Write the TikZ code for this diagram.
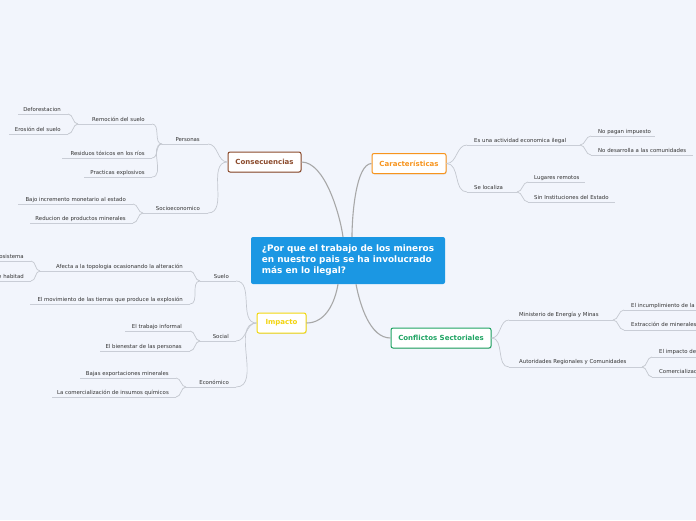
\documentclass[tikz,border=0pt]{standalone}
\usepackage{fontspec}
\setmainfont{DejaVu Sans}
\usetikzlibrary{shadows}
\definecolor{bg}{HTML}{F2F5FC}
\definecolor{txt}{HTML}{333333}
\definecolor{ulc}{HTML}{C9CDD6}
\definecolor{brc}{HTML}{C4C8D0}
\definecolor{mlc}{HTML}{A8A8A8}
\definecolor{qblue}{HTML}{1B97E3}
\definecolor{cbrown}{HTML}{8B4A2B}
\definecolor{corange}{HTML}{F7941D}
\definecolor{cyellow}{HTML}{F2D80F}
\definecolor{cgreen}{HTML}{1FA463}
\tikzset{
  lbl/.style={font=\fontsize{5.4}{6.5}\selectfont, text=txt, inner sep=0pt},
  uline/.style={draw=ulc, line width=0.7pt},
  br/.style={draw=brc, line width=0.7pt},
  mainlink/.style={draw=mlc, line width=1.1pt},
  topic/.style={draw=#1, fill=white, line width=1pt, rounded corners=2pt,
    minimum height=20pt, inner xsep=5pt, font=\fontsize{7}{8}\selectfont\bfseries,
    drop shadow={shadow xshift=0.6pt, shadow yshift=-0.8pt, opacity=0.25}},
}
\begin{document}
\begin{tikzpicture}[x=1pt,y=-1pt]
\fill[bg] (0,0) rectangle (696,520);
\useasboundingbox (0,0) rectangle (696,520);

% central node
\node[fill=qblue, rounded corners=2pt, minimum width=194pt, minimum height=47pt,
  text=white, align=left, font=\fontsize{8.9}{11}\selectfont\bfseries, inner sep=0pt] (q) at (348,260.5)
  {¿Por que el trabajo de los mineros\\en nuestro pais se ha involucrado\\más en lo ilegal?};

% main topics
\node[topic=cbrown, text=cbrown, minimum width=73pt] (cons) at (264.5,162) {Consecuencias};
\node[topic=corange, text=corange, minimum width=74pt] (cara) at (409,163.5) {Características};
\node[topic=cyellow, text=cyellow!95!orange, minimum width=49pt] (imp) at (281.5,323) {Impacto};
\node[topic=cgreen, text=cgreen, minimum width=100pt] (conf) at (441,338) {Conflictos Sectoriales};

% main connectors
\draw[mainlink] (cons.east) .. controls (325,162) and (340,215) .. ([xshift=-5pt]q.north);
\draw[mainlink] (cara.west) .. controls (356,164) and (352,215) .. ([xshift=4pt]q.north);
\draw[mainlink] (imp.east) .. controls (326,323) and (335,302) .. ([xshift=-10pt]q.south);
\draw[mainlink] (conf.west) .. controls (370,338) and (360,305) .. ([xshift=8pt]q.south);

% ---------- Consecuencias ----------
\coordinate (pers-l) at (162,144); \coordinate (pers-r) at (208,144);
\draw[uline] (pers-l) -- (pers-r);
\node[lbl, anchor=base east] (pers) at (200,141) {Personas};
\draw[br] (pers-r) to[out=0,in=180] (cons.west);

\coordinate (soc-l) at (143,213); \coordinate (soc-r) at (208,213);
\draw[uline] (soc-l) -- (soc-r);
\node[lbl, anchor=base east] (soc) at (200,210) {Socioeconomico};
\draw[br] (soc-r) to[out=0,in=180] (cons.west);

\coordinate (remo-l) at (78,124); \coordinate (remo-r) at (152,124);
\draw[uline] (remo-l) -- (remo-r);
\node[lbl, anchor=base east] (remo) at (145,121) {Remoción del suelo};
\draw[br] (remo-r) to[out=0,in=180] (pers-l);

\coordinate (resi-l) at (62,158); \coordinate (resi-r) at (152,158);
\draw[uline] (resi-l) -- (resi-r);
\node[lbl, anchor=base east] (resi) at (145,155) {Residuos tóxicos en los ríos};
\draw[br] (resi-r) to[out=0,in=180] (pers-l);

\coordinate (prac-l) at (84,177); \coordinate (prac-r) at (152,177);
\draw[uline] (prac-l) -- (prac-r);
\node[lbl, anchor=base east] (prac) at (145,174) {Practicas explosivos};
\draw[br] (prac-r) to[out=0,in=180] (pers-l);

\coordinate (defo-l) at (18,114); \coordinate (defo-r) at (68,114);
\draw[uline] (defo-l) -- (defo-r);
\node[lbl, anchor=base east] (defo) at (61,111) {Deforestacion};
\draw[br] (defo-r) to[out=0,in=180] (remo-l);

\coordinate (eros-l) at (9,134); \coordinate (eros-r) at (68,134);
\draw[uline] (eros-l) -- (eros-r);
\node[lbl, anchor=base east] (eros) at (61,131) {Erosión del suelo};
\draw[br] (eros-r) to[out=0,in=180] (remo-l);

\coordinate (bajo-l) at (18,204); \coordinate (bajo-r) at (133,204);
\draw[uline] (bajo-l) -- (bajo-r);
\node[lbl, anchor=base east] (bajo) at (126,201) {Bajo incremento monetario al estado};
\draw[br] (bajo-r) to[out=0,in=180] (soc-l);

\coordinate (redu-l) at (30,223); \coordinate (redu-r) at (133,223);
\draw[uline] (redu-l) -- (redu-r);
\node[lbl, anchor=base east] (redu) at (126,220) {Reducion de productos minerales};
\draw[br] (redu-r) to[out=0,in=180] (soc-l);

% ---------- Impacto ----------
\coordinate (suel-l) at (200,281); \coordinate (suel-r) at (236,281);
\draw[uline] (suel-l) -- (suel-r);
\node[lbl, anchor=base east] (suel) at (229,278) {Suelo};
\draw[br] (suel-r) to[out=0,in=180] (imp.west);

\coordinate (soci-l) at (200,341); \coordinate (soci-r) at (236,341);
\draw[uline] (soci-l) -- (soci-r);
\node[lbl, anchor=base east] (soci) at (229,338) {Social};
\draw[br] (soci-r) to[out=0,in=180] (imp.west);

\coordinate (econ-l) at (186,387); \coordinate (econ-r) at (236,387);
\draw[uline] (econ-l) -- (econ-r);
\node[lbl, anchor=base east] (econ) at (229,384) {Económico};
\draw[br] (econ-r) to[out=0,in=180] (imp.west);

\coordinate (afec-l) at (40,271); \coordinate (afec-r) at (190,271);
\draw[uline] (afec-l) -- (afec-r);
\node[lbl, anchor=base east] (afec) at (183,268) {Afecta a la topologia ocasionando la alteración};
\draw[br] (afec-r) to[out=0,in=180] (suel-l);

\coordinate (movi-l) at (30,304); \coordinate (movi-r) at (190,304);
\draw[uline] (movi-l) -- (movi-r);
\node[lbl, anchor=base east] (movi) at (183,301) {El movimiento de las tierras que produce la explosión};
\draw[br] (movi-r) to[out=0,in=180] (suel-l);

\coordinate (ecos-l) at (0,261); \coordinate (ecos-r) at (31,261);
\draw[uline] (ecos-l) -- (ecos-r);
\node[lbl, anchor=base east] (ecos) at (24,258) {osistema};
\draw[br] (ecos-r) to[out=0,in=180] (afec-l);

\coordinate (habi-l) at (0,281); \coordinate (habi-r) at (31,281);
\draw[uline] (habi-l) -- (habi-r);
\node[lbl, anchor=base east] (habi) at (24,278) {e habitad};
\draw[br] (habi-r) to[out=0,in=180] (afec-l);

\coordinate (trab-l) at (125,331); \coordinate (trab-r) at (190,331);
\draw[uline] (trab-l) -- (trab-r);
\node[lbl, anchor=base east] (trab) at (182,328) {El trabajo informal};
\draw[br] (trab-r) to[out=0,in=180] (soci-l);

\coordinate (bien-l) at (100,351); \coordinate (bien-r) at (190,351);
\draw[uline] (bien-l) -- (bien-r);
\node[lbl, anchor=base east] (bien) at (182,348) {El bienestar de las personas};
\draw[br] (bien-r) to[out=0,in=180] (soci-l);

\coordinate (expo-l) at (80,378); \coordinate (expo-r) at (176,378);
\draw[uline] (expo-l) -- (expo-r);
\node[lbl, anchor=base east] (expo) at (169,375) {Bajas exportaciones minerales};
\draw[br] (expo-r) to[out=0,in=180] (econ-l);

\coordinate (come-l) at (52,397); \coordinate (come-r) at (176,397);
\draw[uline] (come-l) -- (come-r);
\node[lbl, anchor=base east] (come) at (169,394) {La comercialización de insumos químicos};
\draw[br] (come-r) to[out=0,in=180] (econ-l);

% ---------- Caracteristicas ----------
\coordinate (acti-l) at (467,145); \coordinate (acti-r) at (580,145);
\draw[uline] (acti-l) -- (acti-r);
\node[lbl, anchor=base west] (acti) at (474,142) {Es una actividad economica ilegal};
\draw[br] (cara.east) to[out=0,in=180] (acti-l);

\coordinate (loca-l) at (467,192); \coordinate (loca-r) at (517,192);
\draw[uline] (loca-l) -- (loca-r);
\node[lbl, anchor=base west] (loca) at (474,189) {Se localiza};
\draw[br] (cara.east) to[out=0,in=180] (loca-l);

\coordinate (impu-l) at (591,136); \coordinate (impu-r) at (655,136);
\draw[uline] (impu-l) -- (impu-r);
\node[lbl, anchor=base west] (impu) at (598,133) {No pagan impuesto};
\draw[br] (acti-r) to[out=0,in=180] (impu-l);

\coordinate (desa-l) at (591,155); \coordinate (desa-r) at (693,155);
\draw[uline] (desa-l) -- (desa-r);
\node[lbl, anchor=base west] (desa) at (598,152) {No desarrolla a las comunidades};
\draw[br] (acti-r) to[out=0,in=180] (desa-l);

\coordinate (luga-l) at (528,182); \coordinate (luga-r) at (585,182);
\draw[uline] (luga-l) -- (luga-r);
\node[lbl, anchor=base west] (luga) at (534,179) {Lugares remotos};
\draw[br] (loca-r) to[out=0,in=180] (luga-l);

\coordinate (inst-l) at (528,202); \coordinate (inst-r) at (615,202);
\draw[uline] (inst-l) -- (inst-r);
\node[lbl, anchor=base west] (inst) at (534,199) {Sin Instituciones del Estado};
\draw[br] (loca-r) to[out=0,in=180] (inst-l);

% ---------- Conflictos ----------
\coordinate (mini-l) at (509,320); \coordinate (mini-r) at (613,320);
\draw[uline] (mini-l) -- (mini-r);
\node[lbl, anchor=base west] (mini) at (519,316) {Ministerio de Energía y Minas};
\draw[br] (conf.east) to[out=0,in=180] (mini-l);

\coordinate (auto-l) at (509,367); \coordinate (auto-r) at (642,367);
\draw[uline] (auto-l) -- (auto-r);
\node[lbl, anchor=base west] (auto) at (519,363) {Autoridades Regionales y Comunidades};
\draw[br] (conf.east) to[out=0,in=180] (auto-l);

\coordinate (incu-l) at (624,310); \coordinate (incu-r) at (696,310);
\draw[uline] (incu-l) -- (incu-r);
\node[lbl, anchor=base west] (incu) at (631,307) {El incumplimiento de la};
\draw[br] (mini-r) to[out=0,in=180] (incu-l);

\coordinate (extr-l) at (624,330); \coordinate (extr-r) at (696,330);
\draw[uline] (extr-l) -- (extr-r);
\node[lbl, anchor=base west] (extr) at (631,326) {Extracción de minerales};
\draw[br] (mini-r) to[out=0,in=180] (extr-l);

\coordinate (impa-l) at (652,357); \coordinate (impa-r) at (696,357);
\draw[uline] (impa-l) -- (impa-r);
\node[lbl, anchor=base west] (impa) at (659,353) {El impacto de};
\draw[br] (auto-r) to[out=0,in=180] (impa-l);

\coordinate (coml-l) at (652,377); \coordinate (coml-r) at (696,377);
\draw[uline] (coml-l) -- (coml-r);
\node[lbl, anchor=base west] (coml) at (659,373) {Comercializac};
\draw[br] (auto-r) to[out=0,in=180] (coml-l);
\end{tikzpicture}
\end{document}
